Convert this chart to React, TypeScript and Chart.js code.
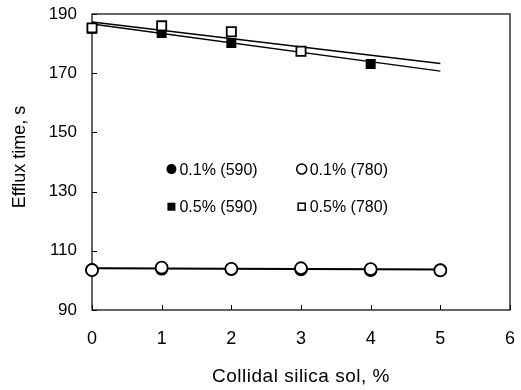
import React, { useEffect, useRef } from "react";
import { Chart, registerables } from "chart.js";
Chart.register(...registerables);

const xValues = [0, 1, 2, 3, 4, 5];
const xTicks = [0, 1, 2, 3, 4, 5, 6];
const yTicks = [90, 110, 130, 150, 170, 190];

const sol01_590: (number | null)[] = [103.6, 103.9, 103.8, 103.7, 103.4, 103.5];
const sol01_780: (number | null)[] = [103.5, 104.3, 103.9, 104.1, 103.8, 103.4];
const sol05_590: (number | null)[] = [185.0, 183.6, 180.2, null, 173.1, null];
const sol05_780: (number | null)[] = [185.3, 186.0, 184.0, 177.4, null, null];

const trendX = [0, 5];
const trend01_590 = [104.0, 103.6];
const trend01_780 = [104.2, 103.8];
const trend05_590 = [186.6, 170.7];
const trend05_780 = [187.3, 173.3];

const legendLabels = ["0.1% (590)", "0.1% (780)", "0.5% (590)", "0.5% (780)"];
const xTitle = "Collidal silica sol, %";
const yTitle = "Efflux time, s";

const FONT = "'Liberation Sans', Arial, sans-serif";

const pts = (ys: (number | null)[], xs: number[]) =>
  xs.map((x, i) => ({ x, y: ys[i] })).filter((p) => p.y !== null) as { x: number; y: number }[];

const framePlugin = {
  id: "frame",
  beforeDatasetsDraw(chart: any) {
    const { ctx, chartArea: a, scales } = chart;
    ctx.save();
    ctx.strokeStyle = "#000";
    ctx.lineWidth = 1.2;
    ctx.strokeRect(a.left, a.top, a.right - a.left, a.bottom - a.top);
    ctx.lineWidth = 1;
    ctx.beginPath();
    yTicks.forEach((v) => {
      const y = Math.round(scales.y.getPixelForValue(v)) + 0.5;
      ctx.moveTo(a.left, y);
      ctx.lineTo(a.left + 5, y);
    });
    xTicks.forEach((v) => {
      const x = Math.round(scales.x.getPixelForValue(v)) + 0.5;
      ctx.moveTo(x, a.bottom);
      ctx.lineTo(x, a.bottom - 5);
    });
    ctx.stroke();
    ctx.restore();
  },
  afterDraw(chart: any) {
    const { ctx, scales, chartArea: a } = chart;
    const xs = scales.x, ys = scales.y;
    const cols = [1.14, 3.01];
    const rows = [137.6, 124.9];
    ctx.save();
    ctx.font = `16px ${FONT}`;
    ctx.fillStyle = "#000";
    ctx.strokeStyle = "#000";
    ctx.lineWidth = 1.5;
    ctx.textBaseline = "middle";
    legendLabels.forEach((lab, i) => {
      const r = Math.floor(i / 2), c = i % 2;
      const mx = xs.getPixelForValue(cols[c]);
      const my = ys.getPixelForValue(rows[r]);
      ctx.beginPath();
      if (r === 0) {
        ctx.arc(mx, my, 5, 0, Math.PI * 2);
        if (c === 0) ctx.fill();
        else { ctx.fillStyle = "#fff"; ctx.fill(); ctx.fillStyle = "#000"; ctx.stroke(); }
      } else {
        if (c === 0) ctx.fillRect(mx - 4, my - 4, 8, 8);
        else { ctx.strokeRect(mx - 3.5, my - 3.5, 7, 7); }
      }
      ctx.fillText(lab, mx + 8, my + 1);
    });
    // axis titles
    ctx.textAlign = "center";
    ctx.font = `19px ${FONT}`;
    try { (ctx as any).letterSpacing = "0.5px"; } catch (e) {}
    ctx.fillText(xTitle, (a.left + a.right) / 2, 377);
    try { (ctx as any).letterSpacing = "0px"; } catch (e) {}
    ctx.font = `18px ${FONT}`;
    ctx.translate(20, 157);
    ctx.rotate(-Math.PI / 2);
    ctx.fillText(yTitle, 0, 0);
    ctx.restore();
  },
};

export default function App() {
  const ref = useRef<HTMLCanvasElement>(null);
  useEffect(() => {
    document.body.style.margin = "0";
    const ctx = ref.current!.getContext("2d")!;
    const lineDs = (ys: number[]) => ({
      data: pts(ys, trendX),
      showLine: true,
      borderColor: "#000",
      borderWidth: 1.5,
      pointRadius: 0,
      order: 10,
    });
    const chart = new Chart(ctx, {
      type: "scatter",
      data: {
        datasets: [
          lineDs(trend01_590),
          lineDs(trend01_780),
          lineDs(trend05_590),
          lineDs(trend05_780),
          {
            label: legendLabels[0],
            data: pts(sol01_590, xValues),
            pointStyle: "circle",
            pointRadius: 6,
            backgroundColor: "#000",
            borderColor: "#000",
            borderWidth: 1.5,
            order: 5,
          },
          {
            label: legendLabels[2],
            data: pts(sol05_590, xValues),
            pointStyle: "rect",
            pointRadius: 6,
            backgroundColor: "#000",
            borderColor: "#000",
            borderWidth: 1.5,
            order: 5,
          },
          {
            label: legendLabels[1],
            data: pts(sol01_780, xValues),
            pointStyle: "circle",
            pointRadius: 6,
            backgroundColor: "#fff",
            borderColor: "#000",
            borderWidth: 1.8,
            order: 1,
          },
          {
            label: legendLabels[3],
            data: pts(sol05_780, xValues),
            pointStyle: "rect",
            pointRadius: 6.5,
            backgroundColor: "#fff",
            borderColor: "#000",
            borderWidth: 1.8,
            order: 1,
          },
        ] as any,
      },
      options: {
        animation: false,
        responsive: false,
        clip: false as any,
        layout: { padding: { top: 14, right: 11, left: 0, bottom: 0 } },
        plugins: { legend: { display: false }, tooltip: { enabled: false } },
        scales: {
          x: {
            type: "linear",
            min: 0,
            max: 6,
            afterBuildTicks: (s: any) => { s.ticks = xTicks.map((v) => ({ value: v })); },
            afterFit: (s: any) => { s.height = 80; s.paddingLeft = 0; s.paddingRight = 0; },
            grid: { display: false, drawTicks: false },
            border: { display: false },
            ticks: { color: "#000", padding: 18, font: { size: 18, family: FONT } },
          },
          y: {
            type: "linear",
            min: 90,
            max: 190,
            afterBuildTicks: (s: any) => { s.ticks = yTicks.map((v) => ({ value: v })); },
            afterFit: (s: any) => { s.width = 92; s.paddingTop = 0; s.paddingBottom = 0; },
            grid: { display: false, drawTicks: false },
            border: { display: false },
            ticks: { color: "#000", padding: 15, font: { size: 17, family: FONT } },
          },
        },
      },
      plugins: [framePlugin],
    });
    return () => chart.destroy();
  }, []);
  return (
    <div style={{ width: 521, height: 390 }}>
      <canvas ref={ref} width={521} height={390} />
    </div>
  );
}
